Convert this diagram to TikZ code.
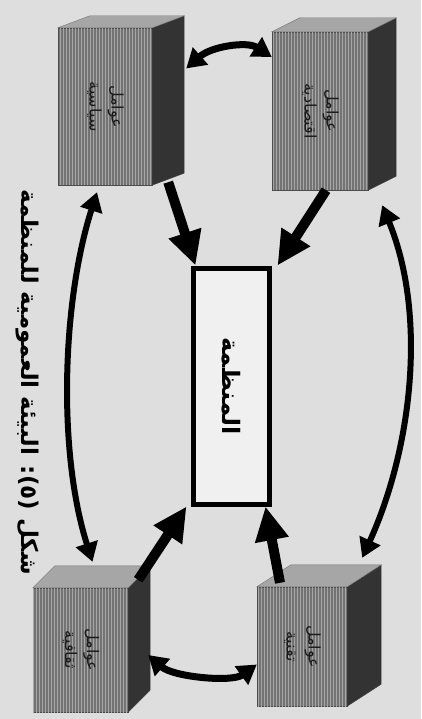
\documentclass[tikz,border=0pt]{standalone}
\usepackage{fontspec}
\usepackage{graphicx}
\newfontfamily\arabicfont[Script=Arabic]{DejaVu Sans}
\TeXXeTstate=1
\usetikzlibrary{arrows.meta,positioning,patterns}

% two rotated lines of right-to-left text
\newcommand{\sidelabel}[2]{\rotatebox{-90}{\begin{tabular}{@{}c@{}}\beginR #1\endR\\\beginR #2\endR\end{tabular}}}

\begin{document}
\begin{tikzpicture}[
    x=1pt, y=-1pt,
    factor/.style={
      draw=black!70,
      fill=black!55,
      postaction={pattern=vertical lines,pattern color=black!35},
      align=center,
      inner sep=0pt,
      text=black!90,
      font=\arabicfont\fontsize{16}{22}\selectfont
    },
    sideface/.style={fill=black!80,draw=black!75},
    topface/.style={fill=black!35,draw=black!55},
    organization/.style={
      draw,
      line width=5pt,
      fill=black!6,
      minimum width=76pt,
      minimum height=236pt,
      font=\arabicfont\bfseries\fontsize{24}{28}\selectfont
    },
    caption/.style={font=\arabicfont\bfseries\fontsize{23}{26}\selectfont,inner sep=0pt},
    influence/.style={-{Triangle[width=32pt,length=34pt]},line width=10pt},
    exchange/.style={{Triangle[width=22pt,length=19pt]}-{Triangle[width=22pt,length=19pt]},line width=7pt},
    longexchange/.style={exchange,line width=6pt}
  ]
  \path[fill=black!13,use as bounding box] (0,0) rectangle (421,719);

  % the organisation
  \node[organization] (org) at (231,386) {\rotatebox{-90}{\beginR المنظمة\endR}};

  % environment blocks
  \node[factor,minimum width=94pt,minimum height=157pt] (tl) at (105,106.5) {\sidelabel{عوامل}{سياسية}};
  \node[factor,minimum width=96pt,minimum height=158pt] (tr) at (320,111) {\sidelabel{عوامل}{اقتصادية}};
  \node[factor,minimum width=95pt,minimum height=124pt] (bl) at (80.5,650) {\sidelabel{عوامل}{ثقافية}};
  \node[factor,minimum width=90pt,minimum height=119pt] (br) at (302,646.5) {\sidelabel{عوامل}{تقنية}};

  \foreach \b/\dx/\dy in {tl/32/-12, tr/28/-14, bl/22/-22, br/34/-22} {
    \draw[sideface] (\b.north east) -- ++(\dx,\dy) -- ([shift={(\dx,\dy)}]\b.south east) -- (\b.south east) -- cycle;
    \draw[topface] (\b.north west) -- ++(\dx,\dy) -- ([shift={(\dx,\dy)}]\b.north east) -- (\b.north east) -- cycle;
  }

  % caption
  \node[caption] (title) at (27,382) {\rotatebox{-90}{\beginR شكل (٥): البيئة العمومية للمنظمة\endR}};

  % influences on the organisation
  \draw[influence] ([xshift=16pt,yshift=3pt]tl.south east) -- ([xshift=5pt]org.north west);
  \draw[influence] ([xshift=6pt]tr.south) -- ([xshift=6pt]org.north east);
  \draw[influence] ([xshift=10pt,yshift=8pt]bl.north east) -- ([xshift=-4pt]org.south west);
  \draw[influence] ([xshift=-22pt,yshift=4pt]br.north) -- ([xshift=-6pt]org.south east);

  % exchanges between the blocks
  \draw[exchange] ([xshift=34pt,yshift=38pt]tl.east) .. controls +(25,-22) and +(-25,-16) .. ([yshift=54pt]tr.west);
  \draw[exchange] ([xshift=20pt,yshift=-5pt]bl.east) .. controls +(25,22) and +(-25,18) .. ([yshift=-18pt]br.west);
  \draw[longexchange] ([xshift=-8pt,yshift=-7pt]tl.south) .. controls +(-35,110) and +(-35,-110) .. ([xshift=12pt,yshift=26pt]bl.north);
  \draw[longexchange] ([xshift=14pt,yshift=-15pt]tr.south east) .. controls +(45,110) and +(50,-110) .. ([xshift=15pt,yshift=29pt]br.north east);
\end{tikzpicture}
\end{document}
